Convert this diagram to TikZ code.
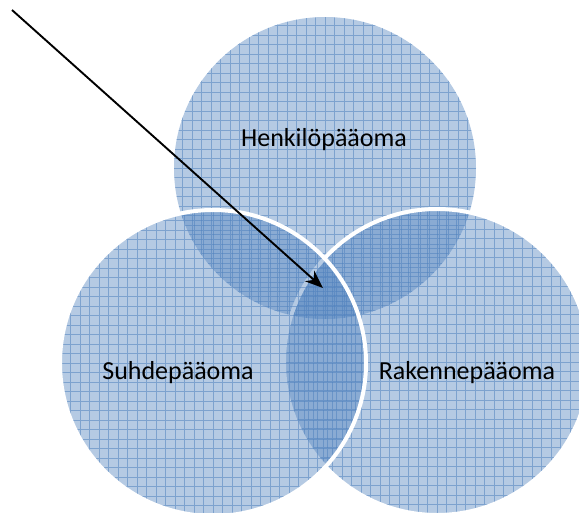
\documentclass[tikz,border=0pt]{standalone}
\usepackage{fontspec}
\setmainfont{Carlito}
\usetikzlibrary{arrows.meta,positioning}
\definecolor{vennblue}{HTML}{4F81BD}

\begin{document}
\begin{tikzpicture}[x=1pt, y=-1pt,
    gridline/.style={draw=vennblue, draw opacity=0.55, line width=0.7pt},
    venn/.style={circle, inner sep=0pt, minimum size=#1, fill=vennblue,
      fill opacity=0.42, text opacity=1,
      path picture={\draw[gridline] (path picture bounding box.south west)
        grid[step=9.5pt] (path picture bounding box.north east);}},
    rim/.style={draw=white, draw opacity=1, line width=4pt},
    venntext/.style={font=\fontsize{26}{30}\selectfont, text=black},
    pointer/.style={-{Stealth[length=18pt,width=14pt]}, line width=1.9pt}]
  \clip (0,0) rectangle (579,512);
  % Top circle
  \node[venn=302pt] (henkilo) at (325,168) {};
  % Right circle
  \node[venn=306pt, rim] (rakenne) at (437,362) {};
  % Left circle
  \node[venn=306pt, rim] (suhde) at (213,363) {};
  % Labels
  \node[venntext] (henkilolabel) at (324,140) {Henkilöpääoma};
  \node[venntext] (suhdelabel) at (178,373) {Suhdepääoma};
  \node[venntext] (rakennelabel) at (467,373) {Rakennepääoma};
  % Arrow
  \coordinate (start) at (12,10);
  \coordinate (tip) at (323,288);
  \draw[pointer] (start) -- (tip);
\end{tikzpicture}
\end{document}
